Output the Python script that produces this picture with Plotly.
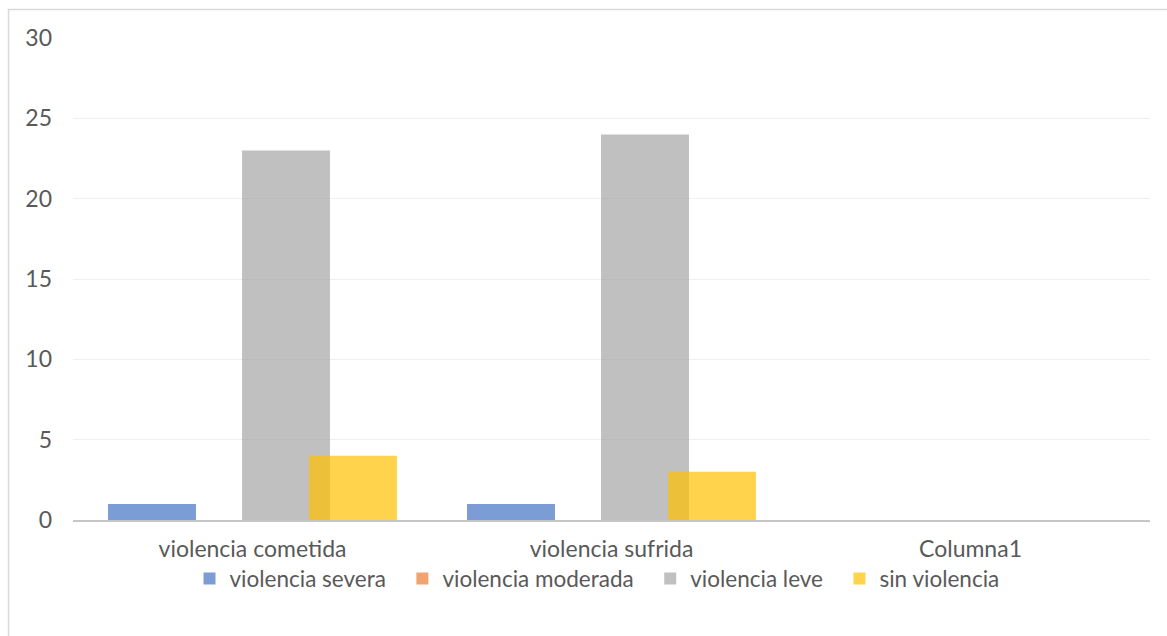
import plotly.graph_objects as go

# Chart data
categories = ["violencia cometida", "violencia sufrida", "Columna1"]
series_names = ["violencia severa", "violencia moderada", "violencia leve", "sin violencia"]
severa = [1, 1, 0]
moderada = [0, 0, 0]
leve = [23, 24, 0]
sin_violencia = [4, 3, 0]
y_ticks = [0, 5, 10, 15, 20, 25, 30]

series_values = [severa, moderada, leve, sin_violencia]
colors = ["rgba(68,114,196,0.7)", "rgba(237,125,49,0.7)",
          "rgba(165,165,165,0.7)", "rgba(255,192,0,0.7)"]

W, H = 1167, 636
ml, mr, mt, mb = 73, 17, 38, 116
plot_w = W - ml - mr
plot_h = H - mt - mb

bar_w = 0.245
step = 0.1866
start = -(3 * step + bar_w) / 2

# extra spacing after each legend entry
pad = "\u00a0\u00a0"

xpos = list(range(len(categories)))
fig = go.Figure()
for i, (name, vals, col) in enumerate(zip(series_names, series_values, colors)):
    fig.add_trace(go.Bar(
        x=xpos, y=vals, name=name + (pad if i < len(series_names) - 1 else ""),
        width=[bar_w] * len(xpos),
        offset=start + i * step,
        marker=dict(color=col, line=dict(width=0)),
        hoverinfo="skip",
    ))

font_family = "Lato, 'Open Sans', sans-serif"
fig.update_layout(
    width=W, height=H,
    margin=dict(l=ml, r=mr, t=mt, b=mb, autoexpand=False),
    paper_bgcolor="white", plot_bgcolor="white",
    barmode="overlay",
    font=dict(family=font_family, size=23, color="#595959"),
    showlegend=True,
    legend=dict(orientation="h", x=(597 - ml) / plot_w, xanchor="center",
                y=-0.122, yanchor="middle",
                font=dict(size=22.5, color="#595959"), itemwidth=30,
                bgcolor="rgba(0,0,0,0)", traceorder="normal"),
    xaxis=dict(
        range=[-0.5, 2.5], tickvals=xpos, ticktext=categories,
        showgrid=False, zeroline=False, showline=True,
        linecolor="#C6C6C6", linewidth=2, ticks="",
        tickfont=dict(size=23, color="#595959"),
        ticklabelstandoff=7,
    ),
    yaxis=dict(
        range=[0, 30], tickvals=y_ticks, showgrid=True,
        gridcolor="#EFEFEF", gridwidth=1, zeroline=False, showline=False,
        ticks="", tickfont=dict(size=23, color="#595959"),
        ticklabelstandoff=20,
    ),
    shapes=[dict(
        type="rect", xref="paper", yref="paper",
        x0=(8.5 - ml) / plot_w, x1=(W + 5 - ml) / plot_w,
        y0=-(H + 5 - mt - plot_h) / plot_h, y1=1 + (mt - 9.5) / plot_h,
        line=dict(color="#D9D9D9", width=1.5), fillcolor="rgba(0,0,0,0)",
        layer="below",
    )],
)

fig.write_html("out.html")
